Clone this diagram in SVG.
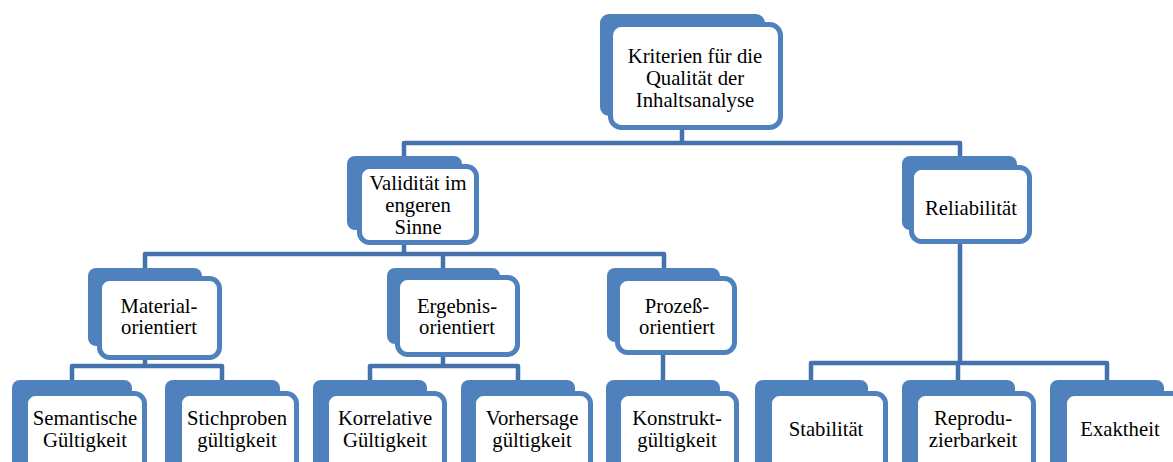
<svg xmlns="http://www.w3.org/2000/svg" width="1173" height="462" viewBox="0 0 1173 462">
<style>
.bk{fill:#4F81BD}
.fr{fill:#FFFFFF;stroke:#4F81BD;stroke-width:5}
.cn{fill:none;stroke:#4472AC;stroke-width:4.5;stroke-linejoin:round}
text{font-family:"Liberation Serif","Times New Roman",serif;font-size:20.7px;fill:#000;text-anchor:middle}
</style>
<rect width="1173" height="462" fill="#FFFFFF"/>
<g id="connectors">
<path class="cn" d="M682,130 V143 M404,156 V143 H960 V156"/>
<path class="cn" d="M404,245 V254 M145,268 V254 H664 V268 M443,254 V268"/>
<path class="cn" d="M145,360 V366 M72,380 V366 H222 V380"/>
<path class="cn" d="M443,357 V366 M370,380 V366 H518 V380"/>
<path class="cn" d="M663,355 V380"/>
<path class="cn" d="M960,243 V363 M811,380 V363 H1107 V380 M958,363 V380"/>
</g>
<g id="n-kriterien">
<rect class="bk" x="600" y="14" width="165" height="102" rx="9"/>
<rect class="fr" x="610.5" y="24.5" width="170" height="103" rx="11"/>
<text x="695" y="63">Kriterien für die</text>
<text x="695" y="85">Qualität der</text>
<text x="695" y="107">Inhaltsanalyse</text>
</g>
<g id="n-validitaet">
<rect class="bk" x="347" y="156" width="115" height="74" rx="8"/>
<rect class="fr" x="359.5" y="166.5" width="117" height="76" rx="10"/>
<text x="418" y="190">Validität im</text>
<text x="418" y="212">engeren</text>
<text x="418" y="234">Sinne</text>
</g>
<g id="n-reliabilitaet">
<rect class="bk" x="902" y="156" width="115" height="74" rx="8"/>
<rect class="fr" x="911.5" y="167.5" width="118" height="74" rx="10"/>
<text x="971" y="215">Reliabilität</text>
</g>
<g id="n-material">
<rect class="bk" x="88" y="268" width="114" height="78" rx="8"/>
<rect class="fr" x="99.5" y="278.5" width="120" height="79" rx="10"/>
<text x="159" y="313">Material-</text>
<text x="159" y="334">orientiert</text>
</g>
<g id="n-ergebnis">
<rect class="bk" x="387" y="268" width="113" height="76" rx="8"/>
<rect class="fr" x="397.5" y="277.5" width="120" height="77" rx="10"/>
<text x="457" y="313">Ergebnis-</text>
<text x="457" y="334">orientiert</text>
</g>
<g id="n-prozess">
<rect class="bk" x="607" y="268" width="113" height="74" rx="8"/>
<rect class="fr" x="617.5" y="278.5" width="117" height="74" rx="10"/>
<text x="677" y="313">Prozeß-</text>
<text x="677" y="334">orientiert</text>
</g>
<g id="n-semantisch">
<rect class="bk" x="12" y="380" width="120" height="100" rx="8"/>
<rect class="fr" x="25.5" y="393.5" width="119" height="90" rx="10"/>
<text x="85" y="425">Semantische</text>
<text x="85" y="447">Gültigkeit</text>
</g>
<g id="n-stichproben">
<rect class="bk" x="165" y="380" width="115" height="100" rx="8"/>
<rect class="fr" x="179.5" y="393.5" width="117" height="90" rx="10"/>
<text x="237" y="425">Stichproben</text>
<text x="237" y="447">gültigkeit</text>
</g>
<g id="n-korrelativ">
<rect class="bk" x="313" y="380" width="114" height="100" rx="8"/>
<rect class="fr" x="326.5" y="393.5" width="118" height="90" rx="10"/>
<text x="385" y="425">Korrelative</text>
<text x="385" y="447">Gültigkeit</text>
</g>
<g id="n-vorhersage">
<rect class="bk" x="461" y="380" width="114" height="100" rx="8"/>
<rect class="fr" x="473.5" y="393.5" width="117" height="90" rx="10"/>
<text x="532" y="425">Vorhersage</text>
<text x="532" y="447">gültigkeit</text>
</g>
<g id="n-konstrukt">
<rect class="bk" x="606" y="380" width="114" height="100" rx="8"/>
<rect class="fr" x="618.5" y="393.5" width="118" height="90" rx="10"/>
<text x="677" y="425">Konstrukt-</text>
<text x="677" y="447">gültigkeit</text>
</g>
<g id="n-stabilitaet">
<rect class="bk" x="755" y="380" width="113" height="100" rx="8"/>
<rect class="fr" x="769.5" y="393.5" width="116" height="90" rx="10"/>
<text x="826" y="436">Stabilität</text>
</g>
<g id="n-reproduzierbarkeit">
<rect class="bk" x="902" y="380" width="113" height="100" rx="8"/>
<rect class="fr" x="915.5" y="393.5" width="118" height="90" rx="10"/>
<text x="973" y="425">Reprodu-</text>
<text x="973" y="447">zierbarkeit</text>
</g>
<g id="n-exaktheit">
<rect class="bk" x="1050" y="380" width="114" height="100" rx="8"/>
<rect class="fr" x="1064.5" y="393.5" width="118" height="90" rx="10"/>
<text x="1120" y="436">Exaktheit</text>
</g>
</svg>
